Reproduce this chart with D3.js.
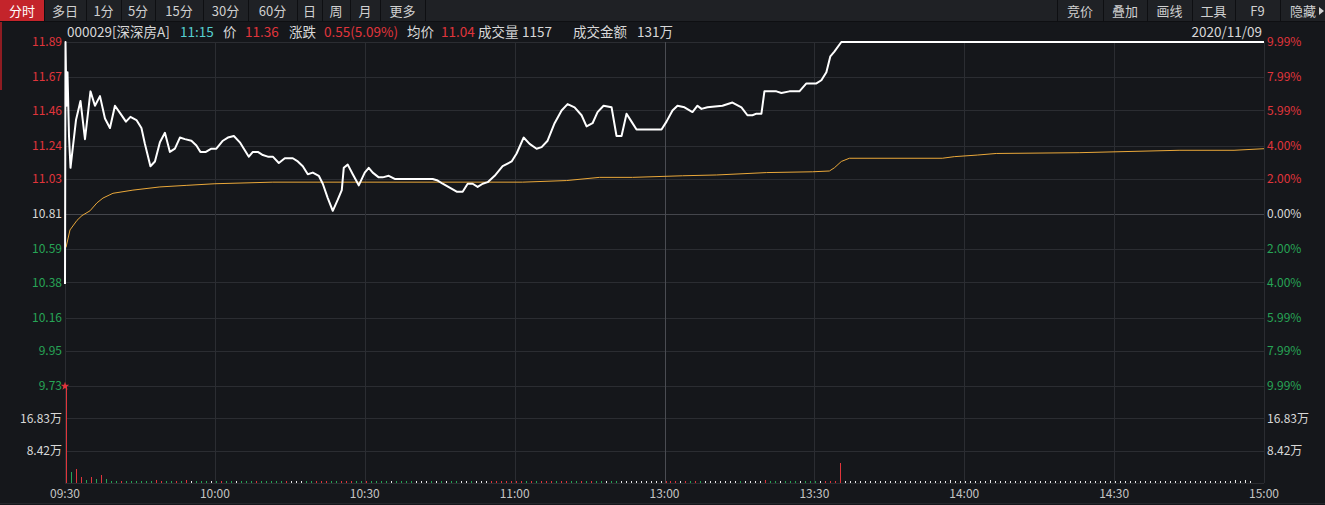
<!DOCTYPE html>
<html><head><meta charset="utf-8">
<script src="https://cdn.jsdelivr.net/npm/d3@7"></script>
<style>
html,body{margin:0;padding:0;background:#15171b;overflow:hidden}
svg{display:block}
text{font-family:"Microsoft YaHei","Noto Sans CJK SC","Noto Sans",sans-serif}
</style></head><body>
<svg id="c" width="1325" height="505"></svg>
<script>
// ---------------- DATA ----------------
const prevClose = 10.81;
const priceTicks = [11.89,11.67,11.46,11.24,11.03,10.81,10.59,10.38,10.16,9.95,9.73];
const pctLabels = ["9.99%","7.99%","5.99%","4.00%","2.00%","0.00%","2.00%","4.00%","5.99%","7.99%","9.99%"];
const volTicks = [16.83, 8.42];
const volTickLabels = ["16.83万","8.42万"];
const volMax = 25.25;
const timeTicks = [0,30,60,90,120,150,180,210,240];
const timeLabels = ["09:30","10:00","10:30","11:00","13:00","13:30","14:00","14:30","15:00"];
const leftTabs = ["分时","多日","1分","5分","15分","30分","60分","日","周","月","更多"];
const rightTabs = ["竞价","叠加","画线","工具","F9","隐藏"];
const infoTexts = ["000029[深深房A]","11:15","价","11.36","涨跌","0.55(5.09%)","均价","11.04","成交量","1157","成交金额","131万"];
const infoKinds = ["w","c","w","r","w","r","w","r","w","w","w","w"];
const dateText = "2020/11/09";

// price line: minutes since 09:30 (trading minutes) and price
const priceTimes = [
  0,0.1,0.3,0.5,0.8,1.1,1.5,2.2,3.1,4,
  5.1,6,7,8,9,10,11.1,12.2,13.1,14.3,
  15.3,16,17.1,18,19,20,21,22,23,24,
  25.3,26.3,27.1,28.2,29.3,30.3,31.6,32.6,33.8,35,
  35.8,36.8,37.6,38.6,39.6,40.6,41.6,42.8,44,45.6,
  46.6,47.6,48.6,49.6,50.8,51.6,52.6,53.6,54.6,55.4,
  55.8,56.6,57.6,58.8,60,60.8,61.6,62.8,63.6,64.8,
  66,73.6,74.6,75.6,78.4,79.6,80.6,81.6,82.6,83.6,
  84.6,86,87.6,89.4,90.4,91.8,93,94.4,95.4,96.6,
  98,99.4,100.6,102,103.4,104.4,105.6,106.6,107.8,109.4,
  110.4,111.4,112.4,113.4,114.4,119.4,120.4,121.6,122.6,124,
  125.6,126.6,127.4,128.6,131.6,133.6,135.4,136.6,137.6,138.4,
  139.4,140,142.4,143.4,145,147,148.4,150.4,151.4,152.4,
  153.2,154,155.4,240
];
const priceValues = [
  10.37,11.89,11.49,11.70,11.30,11.10,11.21,11.40,11.52,11.28,
  11.58,11.49,11.55,11.41,11.35,11.49,11.44,11.39,11.42,11.40,
  11.35,11.25,11.11,11.14,11.26,11.32,11.20,11.22,11.29,11.28,
  11.27,11.24,11.20,11.20,11.22,11.22,11.27,11.29,11.30,11.26,
  11.22,11.17,11.20,11.20,11.18,11.17,11.17,11.13,11.16,11.16,
  11.14,11.11,11.06,11.07,11.05,11.00,10.91,10.83,10.90,10.96,
  11.10,11.12,11.06,10.99,11.07,11.10,11.07,11.04,11.04,11.05,
  11.03,11.03,11.02,11.00,10.95,10.95,11.00,11.00,10.98,11.00,
  11.01,11.05,11.11,11.14,11.19,11.29,11.25,11.22,11.23,11.27,
  11.38,11.46,11.50,11.48,11.43,11.36,11.38,11.45,11.49,11.48,
  11.30,11.30,11.44,11.39,11.34,11.34,11.39,11.46,11.49,11.48,
  11.45,11.49,11.47,11.48,11.49,11.51,11.48,11.43,11.43,11.44,
  11.44,11.58,11.58,11.57,11.58,11.58,11.63,11.63,11.65,11.70,
  11.80,11.83,11.89,11.89
];

// average price line
const avgTimes = [0.2,1,2.4,3.4,5,6.4,7.6,9.6,13.6,19,24.4,30,41.6,75,91.6,100.4,107,113.6,123.6,130.4,
  140.4,149.6,153,154,155.4,157,175.6,178,182.6,186.4,203,223,234,240];
const avgValues = [10.60,10.71,10.77,10.80,10.83,10.88,10.91,10.94,10.96,10.98,10.99,11.00,11.01,11.01,11.01,11.02,11.04,11.04,11.05,11.055,
  11.07,11.075,11.08,11.10,11.14,11.16,11.16,11.17,11.18,11.19,11.195,11.21,11.21,11.22];

// volume per minute (万), minute 0..240
const volValues = [
  25.2,2.9,3.7,1.6,0.8,1.6,1.0,2.1,1.0,0.6,
  0.5,0.4,0.5,0.4,0.4,0.5,0.4,0.4,0.8,0.6,
  0.4,0.5,0.4,0.5,0.7,0.4,0.6,0.5,0.6,0.4,
  0.4,0.6,0.4,0.4,0.4,0.5,0.4,0.4,0.6,0.4,
  0.4,0.5,0.5,0.5,0.6,0.4,0.4,0.4,0.5,0.5,
  0.6,0.5,0.5,0.5,0.6,0.6,0.5,0.6,0.5,0.4,
  0.6,0.4,0.4,0.4,0.4,0.4,0.4,0.4,0.4,0.4,
  0.4,0.4,0.4,0.4,0.5,0.4,0.5,0.4,0.4,0.4,
  0.4,0.4,0.4,0.4,0.4,0.5,0.6,0.5,0.6,0.6,
  0.6,0.5,0.5,0.6,0.4,0.4,0.5,0.5,0.4,0.5,
  0.4,0.4,0.5,0.4,0.4,0.4,0.4,0.4,0.5,0.4,
  0.5,0.4,0.4,0.4,0.4,0.4,0.4,0.4,0.4,0.4,
  0.6,0.6,0.6,0.5,0.4,0.4,0.4,0.4,0.4,0.4,
  0.4,0.4,0.4,0.4,0.4,0.4,0.4,0.4,0.4,0.4,
  0.7,0.4,0.4,0.4,0.4,0.4,0.4,0.4,0.4,0.4,
  0.5,0.4,0.5,0.5,0.5,5.3,0.4,0.4,0.4,0.4,
  0.4,0.4,0.6,0.4,0.4,0.4,0.4,0.4,0.4,0.4,
  0.6,0.4,0.4,0.4,0.4,0.4,0.4,0.7,0.4,0.4,
  0.4,0.4,0.4,0.4,0.4,0.7,0.4,0.4,0.4,0.4,
  0.4,0.4,0.4,0.4,0.4,0.4,0.4,0.4,0.4,0.4,
  0.4,0.4,0.4,0.4,0.4,0.4,0.4,0.4,0.4,0.4,
  0.4,0.4,0.4,0.4,0.4,0.4,0.4,0.4,0.4,0.4,
  0.4,0.4,0.4,0.4,0.4,0.4,0.4,0.4,0.4,0.4,
  0.4,0.4,0.4,0.4,0.7,0.6,0.7,0.4,0,0,
  0
];
// 1 = up (red), -1 = down (green), 0 = unchanged (white)
const volDir = [
  1,-1,1,1,-1,1,-1,1,-1,-1,
  -1,1,-1,-1,-1,-1,-1,-1,1,1,
  -1,-1,1,-1,1,0,-1,-1,-1,0,
  -1,1,-1,-1,0,-1,-1,-1,1,-1,
  -1,-1,-1,-1,1,0,0,0,-1,-1,
  1,1,1,-1,-1,1,1,1,-1,-1,
  1,-1,-1,-1,-1,0,-1,-1,-1,-1,
  0,0,0,-1,0,-1,0,-1,-1,0,
  0,-1,0,0,0,1,1,1,1,1,
  1,1,-1,1,-1,1,1,1,-1,1,
  1,-1,-1,1,-1,1,-1,-1,0,-1,
  -1,0,0,0,0,0,0,0,0,0,
  1,1,1,0,1,-1,1,-1,0,0,
  0,0,0,0,0,-1,0,0,0,0,
  1,-1,-1,0,-1,-1,-1,0,-1,-1,
  -1,0,1,1,1,1,0,0,0,0,
  0,0,0,0,0,0,0,0,0,0,
  0,0,0,0,0,0,0,0,0,0,
  0,0,0,0,0,0,0,0,0,0,
  0,0,0,0,0,0,0,0,0,0,
  0,0,0,0,0,0,0,0,0,0,
  0,0,0,0,0,0,0,0,0,0,
  0,0,0,0,0,0,0,0,0,0,
  0,0,0,0,0,0,0,0,0,0,
  0
];

// ---------------- LAYOUT / STYLE ----------------
const W = 1325, H = 505;
const L = 65, R = 1264, PT = 42, PB = 386, VB = 483;
const C = {
  bg:"#15171b", bar:"#1f2125", sep:"#0e0f12", grid:"#2b2d32", zero:"#44464c", mid:"#4a4c52",
  red:"#e0353b", green:"#27a456", white:"#d8d8d8", cyan:"#56cfd0", price:"#ffffff", avg:"#eaa83a",
  axisTxt:"#c4c4c4"
};
const tabEdgesL = [0,44,86,121,155,203,248,297,322,350,380,425];
const tabEdgesR = [1057,1103,1147,1192,1235,1280,1325];
const infoX = [67,180,223,245,289,324,407,441,478,522,573,637];

const svg = d3.select("#c");
svg.append("rect").attr("width",W).attr("height",H).attr("fill",C.bg);

const x = d3.scaleLinear().domain([0,240]).range([L,R]);
const y = d3.scaleLinear().domain([priceTicks[priceTicks.length-1], priceTicks[0]]).range([PB,PT]);
const v = d3.scaleLinear().domain([0,volMax]).range([VB,PB]);

// toolbar
svg.append("rect").attr("x",0).attr("y",0).attr("width",W).attr("height",21).attr("fill",C.bar);
svg.append("rect").attr("x",0).attr("y",21).attr("width",W).attr("height",1).attr("fill",C.sep);
svg.append("rect").attr("x",0).attr("y",0).attr("width",tabEdgesL[1]).attr("height",21).attr("fill","#c4242b");
const tb = svg.append("g").attr("font-size",13);
leftTabs.forEach((t,i)=>{
  const a = tabEdgesL[i], b = tabEdgesL[i+1];
  tb.append("text").attr("x",(a+b)/2).attr("y",11).attr("dy","0.35em").attr("text-anchor","middle")
    .attr("fill", i===0? "#ffffff" : "#d0d0d0").text(t);
  tb.append("rect").attr("x",b).attr("y",0).attr("width",1).attr("height",21).attr("fill",C.sep);
});
tb.append("rect").attr("x",tabEdgesR[0]).attr("y",0).attr("width",1).attr("height",21).attr("fill",C.sep);
rightTabs.forEach((t,i)=>{
  const a = tabEdgesR[i], b = tabEdgesR[i+1];
  const last = i===rightTabs.length-1;
  tb.append("text").attr("x",last? a+10 : (a+b)/2).attr("y",11).attr("dy","0.35em")
    .attr("text-anchor", last? "start":"middle").attr("fill","#d0d0d0").text(t);
  if(!last) tb.append("rect").attr("x",b).attr("y",0).attr("width",1).attr("height",21).attr("fill",C.sep);
});
tb.append("path").attr("d","M1319,7 L1324,11 L1319,15 Z").attr("fill","#d0d0d0");

// left red strip
svg.append("rect").attr("x",0).attr("y",22).attr("width",2).attr("height",68).attr("fill","#8f1c22");

// grid
const g = svg.append("g").attr("shape-rendering","crispEdges");
g.selectAll(".hp").data(priceTicks).join("line")
  .attr("x1",L).attr("x2",R).attr("y1",d=>Math.round(y(d))+0.5).attr("y2",d=>Math.round(y(d))+0.5)
  .attr("stroke",d=>d===prevClose?C.zero:C.grid);
g.selectAll(".hv").data(volTicks.concat([0])).join("line")
  .attr("x1",L).attr("x2",R).attr("y1",d=>Math.round(v(d))+0.5).attr("y2",d=>Math.round(v(d))+0.5)
  .attr("stroke",C.grid);
g.selectAll(".vt").data(timeTicks).join("line")
  .attr("x1",d=>Math.round(x(d))+0.5).attr("x2",d=>Math.round(x(d))+0.5)
  .attr("y1",PT).attr("y2",VB)
  .attr("stroke",d=>d===120?C.mid:C.grid);
svg.append("line").attr("x1",0).attr("x2",W).attr("y1",503.5).attr("y2",503.5).attr("stroke","#24262b");

// info row
const inf = svg.append("g").attr("font-size",13.5);
infoTexts.forEach((t,i)=>{
  inf.append("text").attr("x",infoX[i]).attr("y",32).attr("dy","0.35em")
    .attr("fill", infoKinds[i]==="r"?C.red: infoKinds[i]==="c"?C.cyan:C.white).text(t);
});
inf.append("text").attr("x",1262).attr("y",32).attr("dy","0.35em").attr("text-anchor","end").attr("fill",C.white).text(dateText);

// axis labels
const ax = svg.append("g").attr("font-size",12);
const colOf = d => d>prevClose? C.red : d<prevClose? C.green : C.white;
ax.selectAll(".pl").data(priceTicks).join("text")
  .attr("x",L-3).attr("y",d=>y(d)).attr("dy","0.35em").attr("text-anchor","end")
  .attr("fill",colOf).text(d=>d.toFixed(2));
ax.selectAll(".pr").data(priceTicks).join("text")
  .attr("x",R+3).attr("y",d=>y(d)).attr("dy","0.35em").attr("text-anchor","start")
  .attr("fill",colOf).text((d,i)=>pctLabels[i]);
ax.selectAll(".vl").data(volTicks).join("text")
  .attr("x",L-3).attr("y",d=>v(d)).attr("dy","0.35em").attr("text-anchor","end")
  .attr("fill",C.white).text((d,i)=>volTickLabels[i]);
ax.selectAll(".vr").data(volTicks).join("text")
  .attr("x",R+3).attr("y",d=>v(d)).attr("dy","0.35em").attr("text-anchor","start")
  .attr("fill",C.white).text((d,i)=>volTickLabels[i]);
ax.selectAll(".tl").data(timeTicks).join("text")
  .attr("x",d=>x(d)).attr("y",494).attr("dy","0.35em").attr("text-anchor","middle")
  .attr("fill",C.axisTxt).text((d,i)=>timeLabels[i]);

// volume bars
const volColor = d => d>0? C.red : d<0? C.green : "#e8e8e8";
svg.append("g").attr("shape-rendering","crispEdges").selectAll("rect").data(volValues).join("rect")
  .attr("x",(d,i)=>Math.round(x(i))+1).attr("width",1)
  .attr("y",d=>v(d)).attr("height",d=>VB - v(d))
  .attr("fill",(d,i)=>volColor(volDir[i]));
svg.append("path").attr("d",d3.symbol(d3.symbolStar,22)())
  .attr("transform",`translate(${x(0)},${v(volValues[0])})`).attr("fill",C.red);

// average line
const avgData = avgTimes.map((t,i)=>[t,avgValues[i]]);
svg.append("path").datum(avgData)
  .attr("d",d3.line().x(d=>x(d[0])).y(d=>y(d[1])))
  .attr("fill","none").attr("stroke",C.avg).attr("stroke-width",1);

// price line
const priceData = priceTimes.map((t,i)=>[t,priceValues[i]]);
svg.append("path").datum(priceData)
  .attr("d",d3.line().x(d=>x(d[0])).y(d=>y(d[1])))
  .attr("fill","none").attr("stroke",C.price).attr("stroke-width",2).attr("stroke-linejoin","round");
</script></body></html>
